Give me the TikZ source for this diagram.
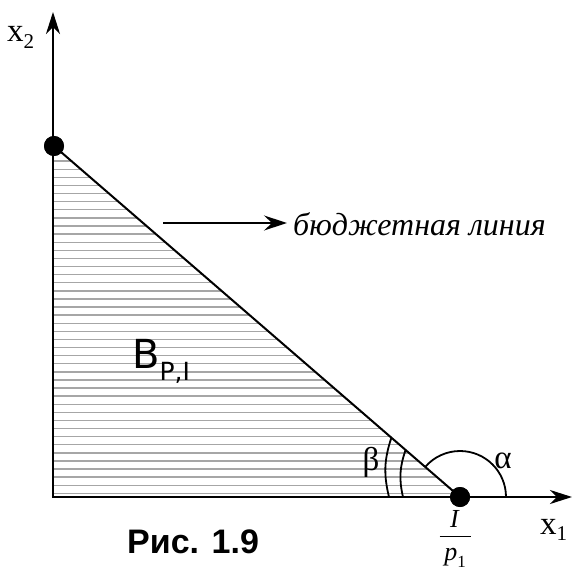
\documentclass[tikz,border=0pt]{standalone}
\usepackage{fontspec}
\setmainfont{Liberation Serif}
\newfontfamily\labsans{DejaVu Sans}
\newfontfamily\capsans{Liberation Sans}
\usepackage{tikz}
\usetikzlibrary{arrows.meta,calc}

\begin{document}
\begin{tikzpicture}[
  x=1pt, y=-1pt,
  axis/.style={line width=2.4pt, -{Stealth[length=22pt, width=14pt, inset=7pt]}},
  budget/.style={line width=2pt},
  hatch/.style={gray!70, line width=1.4pt},
  dot/.style={circle, fill=black, minimum size=20pt, inner sep=0pt},
  ang/.style={line width=1.8pt},
  arr/.style={line width=1.6pt, -{Stealth[length=23pt, width=15pt, inset=8pt]}},
  lbl/.style={inner sep=0pt, font=\fontsize{33}{35}\selectfont},
]
\useasboundingbox (0,0) rectangle (572,569);

% --- points ---
\coordinate (O) at (53,497);
\coordinate (ytip) at (53,12);
\coordinate (xtip) at (572,497);
\node[dot] (A) at (54,146) {};
\node[dot] (C) at (460,497) {};

% --- hatched budget set ---
\begin{scope}
  \clip (O) -- (A.center) -- (C.center) -- cycle;
  \foreach \k in {0,...,43}
    \draw[hatch] (40,{493.3-8.1*\k}) -- (470,{493.3-8.1*\k});
\end{scope}

% --- axes and budget line ---
\draw[budget] (A.center) -- (C.center);
\draw[axis] ([yshift=1.2pt]O) -- (ytip);
\draw[axis] ([xshift=-1.2pt]O) -- (xtip);
\node[dot] at (A) {};
\node[dot] at (C) {};

% --- angles ---
\draw[ang] ([xshift=46pt]C.center) arc[start angle=0, end angle=139.2, radius=46pt];
\coordinate (b1) at (389,497);
\coordinate (b2) at ($(C.center)!0.169!(A.center)$);
\coordinate (b3) at (403,497);
\coordinate (b4) at ($(C.center)!0.134!(A.center)$);
\draw[ang] (b1) to[bend left=16] (b2);
\draw[ang] (b3) to[bend left=16] (b4);

% --- labels ---
\node[lbl, anchor=base west] (x2) at (7,42) {x\raisebox{-0.2em}{\fontsize{21}{21}\selectfont 2}};
\node[lbl, anchor=base west] (x1) at (540,534) {x\raisebox{-0.2em}{\fontsize{21}{21}\selectfont 1}};
\node[lbl, anchor=base] (beta) at (371,470) {β};
\node[lbl, anchor=base] (alpha) at (503,468) {α};
\node[lbl, anchor=base west, font=\fontsize{32}{34}\selectfont\itshape] (bline) at (293,235) {бюджетная линия};
\coordinate (bstart) at (163,223);
\draw[arr] (bstart) -- ([xshift=-6pt]bline.west |- bstart);
\node[inner sep=0pt, anchor=base west, font=\fontsize{40}{42}\selectfont\labsans] (bset) at (132,368)
  {B\raisebox{-0.3em}{\fontsize{25}{25}\selectfont P,I}};
\node[inner sep=0pt, anchor=base, font=\fontsize{26}{28}\selectfont] (frac) at (455,527)
  {\begin{tabular}[t]{@{}c@{}}\textit{I}\\[-10pt]
   \raisebox{8pt}{\rule{31pt}{1.5pt}}\\[-12.5pt]
   \textit{p}\raisebox{-0.25em}{\fontsize{17}{17}\selectfont 1}\end{tabular}};
\node[inner sep=0pt, anchor=base west, font=\fontsize{34}{36}\selectfont\capsans\bfseries] (fig) at (127,553) {Рис. 1.9};
\end{tikzpicture}
\end{document}
